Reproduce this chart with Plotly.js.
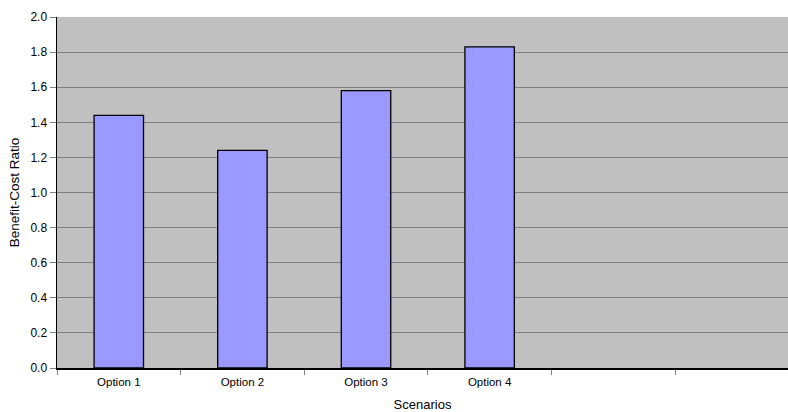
<!DOCTYPE html>
<html>
<head>
<meta charset="utf-8">
<script src="https://cdn.plot.ly/plotly-3.0.1.min.js"></script>
<style>html,body{margin:0;padding:0;background:#fff}#chart{width:788px;height:412px}</style>
</head>
<body>
<div id="chart"></div>
<script>
var categories = ["Option 1", "Option 2", "Option 3", "Option 4"];
var ratios = [1.44, 1.24, 1.58, 1.83];
var slotLabels = ["Option 1", "Option 2", "Option 3", "Option 4", "", ""];
var yTicks = [0, 0.2, 0.4, 0.6, 0.8, 1.0, 1.2, 1.4, 1.6, 1.8, 2.0];

var xIdx = categories.map(function (c, i) { return i; });
var slotIdx = slotLabels.map(function (c, i) { return i; });

var trace = {
  type: "bar",
  x: xIdx,
  y: ratios,
  text: categories,
  hoverinfo: "text+y",
  textposition: "none",
  width: 0.4,
  marker: { color: "#9999FF", line: { color: "#000000", width: 1.3 } }
};

var layout = {
  width: 788,
  height: 412,
  margin: { l: 57, r: 0, t: 17, b: 44, pad: 0 },
  paper_bgcolor: "#ffffff",
  plot_bgcolor: "#C0C0C0",
  font: { family: "Liberation Sans, Arial, sans-serif", size: 12, color: "#000" },
  showlegend: false,
  bargap: 0.6,
  xaxis: {
    range: [-0.5, 5.414],
    tickmode: "array",
    tickvals: slotIdx,
    ticktext: slotLabels,
    ticks: "",
    ticklabelstandoff: 3,
    showgrid: false,
    zeroline: false,
    showline: true,
    linecolor: "#000",
    linewidth: 1.5,
    tickfont: { size: 11.5 },
    minor: { tickmode: "linear", tick0: -0.5, dtick: 1, ticks: "outside", ticklen: 5, tickcolor: "#808080", tickwidth: 1, showgrid: false },
    title: { text: "Scenarios", font: { size: 13 }, standoff: 13 },
    fixedrange: true
  },
  yaxis: {
    range: [0, 2],
    tickmode: "array",
    tickvals: yTicks,
    ticktext: yTicks.map(function (v) { return v.toFixed(1); }),
    ticks: "outside",
    ticklen: 6,
    tickcolor: "#808080",
    showgrid: true,
    gridcolor: "#808080",
    gridwidth: 1,
    zeroline: false,
    showline: true,
    linecolor: "#000",
    linewidth: 1.5,
    tickfont: { size: 12 },
    title: { text: "Benefit-Cost Ratio", font: { size: 13.5 }, standoff: 7 },
    fixedrange: true
  }
};

Plotly.newPlot("chart", [trace], layout, { displayModeBar: false, staticPlot: true });
</script>
</body>
</html>
